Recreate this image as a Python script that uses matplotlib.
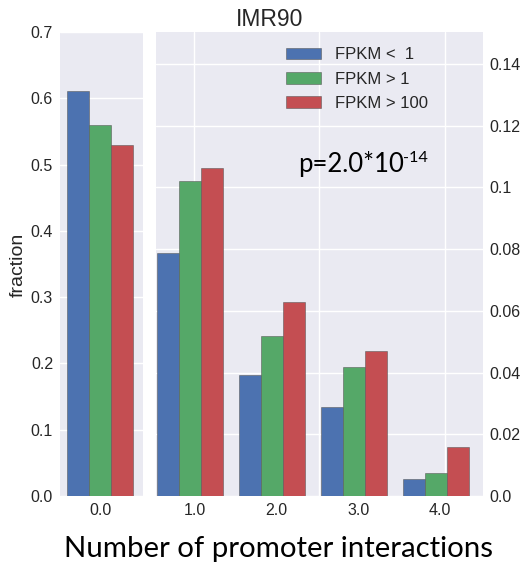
import numpy as np
import matplotlib
matplotlib.use("Agg")
import matplotlib.pyplot as plt
from matplotlib.ticker import FixedLocator

plt.style.use("seaborn-v0_8-darkgrid")
plt.rcParams["font.family"] = ["Liberation Sans", "DejaVu Sans"]

# Fraction of promoters by number of interactions, split by expression level
series_labels = ["FPKM <  1", "FPKM > 1", "FPKM > 100"]
series_colors = ["#4C72B0", "#55A868", "#C44E52"]

zero_category = [0.0]
zero_low = [0.611]
zero_mid = [0.559]
zero_high = [0.530]

categories = [1.0, 2.0, 3.0, 4.0]
frac_low = [0.0789, 0.0392, 0.0290, 0.0055]
frac_mid = [0.1022, 0.0519, 0.0417, 0.0075]
frac_high = [0.1062, 0.0629, 0.0469, 0.0160]

left_ticks = [0.0, 0.1, 0.2, 0.3, 0.4, 0.5, 0.6, 0.7]
left_ticklabels = ["0.0", "0.1", "0.2", "0.3", "0.4", "0.5", "0.6", "0.7"]
right_ticks = [0.0, 0.02, 0.04, 0.06, 0.08, 0.10, 0.12, 0.14]
right_ticklabels = ["0.0", "0.02", "0.04", "0.06", "0.08", "0.1", "0.12", "0.14"]
zero_ticklabels = ["0.0"]
cat_ticklabels = ["1.0", "2.0", "3.0", "4.0"]

W, H = 524, 564
fig = plt.figure(figsize=(W / 100, H / 100), dpi=100)
fig.patch.set_facecolor("white")


def px_rect(x0, y0, x1, y1):
    return [x0 / W, 1 - y1 / H, (x1 - x0) / W, (y1 - y0) / H]


ax1 = fig.add_axes(px_rect(60, 32, 143, 496))
ax2 = fig.add_axes(px_rect(155.7, 32, 482.5, 496))

bw = 0.27
offsets = [-bw, 0.0, bw]
edge = dict(edgecolor=(0.35, 0.35, 0.35, 0.55), linewidth=0.7)

zero_series = [zero_low, zero_mid, zero_high]
cat_series = [frac_low, frac_mid, frac_high]

for vals, off, col in zip(zero_series, offsets, series_colors):
    ax1.bar(np.array(zero_category) + off, vals, width=bw, color=col, **edge)

handles = []
for vals, off, col, lab in zip(cat_series, offsets, series_colors, series_labels):
    b = ax2.bar(np.array(categories) + off, vals, width=bw, color=col, label=lab, **edge)
    handles.append(b)

ax1.set_xlim(-0.493, 0.525)
ax1.set_ylim(0, 0.7)
ax1.set_yticks(left_ticks)
ax1.set_yticklabels(left_ticklabels)
ax1.set_xticks(zero_category)
ax1.set_xticklabels(zero_ticklabels)
ax1.grid(axis="x", visible=False)

ax2.set_xlim(0.577, 4.572)
ax2.set_ylim(0, 0.1504)
ax2.yaxis.tick_right()
ax2.set_yticks(right_ticks)
ax2.set_yticklabels(right_ticklabels)
ax2.set_xticks(np.array(categories) + 0.055)
ax2.set_xticklabels(cat_ticklabels)
ax2.grid(axis="x", which="major", visible=False)
ax2.xaxis.set_minor_locator(FixedLocator([1.05, 2.577, 4.11]))
ax2.grid(axis="x", which="minor", color="white", linewidth=1.0)

for ax in (ax1, ax2):
    ax.set_facecolor("#EAEAF2")
    ax.tick_params(which="both", length=0, labelsize=11.5, colors="#262626", pad=5)
    for s in ax.spines.values():
        s.set_visible(False)
    ax.grid(axis="y", color="white", linewidth=1.0)
    ax.set_axisbelow(True)

ax2.legend(handles=handles, labels=series_labels, loc="upper left",
           bbox_to_anchor=(0.354, 0.999), frameon=False, fontsize=12,
           handlelength=2.1, handleheight=0.7, handletextpad=0.8,
           labelspacing=0.55, borderpad=0.4)

fig.text(269.7 / W, 1 - 20 / H, "IMR90", ha="center", va="center",
         fontsize=16.5, color="#262626")
fig.text(18.5 / W, 1 - 265 / H, "fraction", ha="center", va="center",
         rotation=90, fontsize=14, color="#262626")

fig.text(298 / W, 1 - 172.3 / H, "p=2.0*10", ha="left", va="baseline",
         fontsize=18.5, family="Lato", color="black")
fig.text(403 / W, 1 - 161.7 / H, "-14", ha="left", va="baseline",
         fontsize=11.7, family="Lato", color="black")

fig.text(278 / W, 1 - 556.7 / H, "Number of promoter interactions", ha="center",
         va="baseline", fontsize=21.2, family="Lato", color="black")

fig.savefig("out.png", dpi=100, facecolor="white")
